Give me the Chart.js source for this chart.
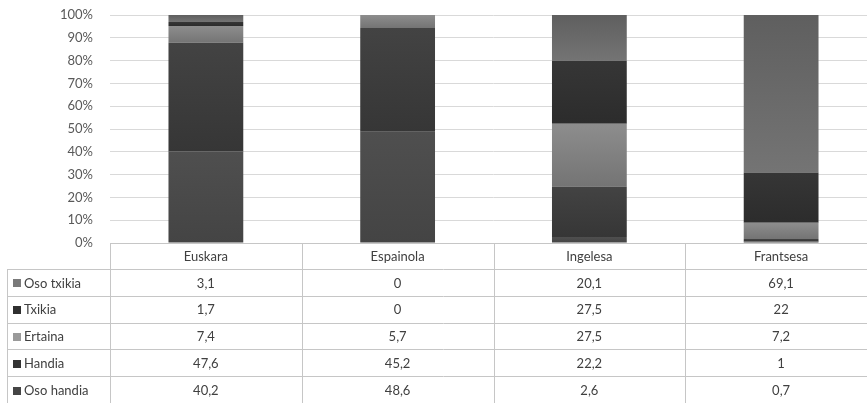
<!DOCTYPE html>
<html>
<head>
<meta charset="utf-8">
<script src="https://cdn.jsdelivr.net/npm/chart.js@4"></script>
<style>
  html, body { margin: 0; padding: 0; background: #fff; overflow: hidden; }
  #wrap { width: 880px; height: 403px; position: relative; }
</style>
</head>
<body>
<div id="wrap"><canvas id="c"></canvas></div>
<script>
// Hizkuntzak (categories) and answer groups
const categories = ['Euskara', 'Espainola', 'Ingelesa', 'Frantsesa'];
const osoTxikia = [3.1, 0, 20.1, 69.1];
const txikia    = [1.7, 0, 27.5, 22];
const ertaina   = [7.4, 5.7, 27.5, 7.2];
const handia    = [47.6, 45.2, 22.2, 1];
const osoHandia = [40.2, 48.6, 2.6, 0.7];
const yTicks = [0, 10, 20, 30, 40, 50, 60, 70, 80, 90, 100];

// series in stacking order (bottom first); each segment is shaded top -> bottom
const series = [
  { label: 'Oso handia', values: osoHandia, top: '#4f4f4f', bottom: '#444444', key: '#454545' },
  { label: 'Handia',     values: handia,    top: '#434343', bottom: '#363636', key: '#333333' },
  { label: 'Ertaina',    values: ertaina,   top: '#8d8d8d', bottom: '#747474', key: '#9a9a9a' },
  { label: 'Txikia',     values: txikia,    top: '#363636', bottom: '#2c2c2c', key: '#2f2f2f' },
  { label: 'Oso txikia', values: osoTxikia, top: '#5f5f5f', bottom: '#747474', key: '#7a7a7a' }
];

// 100% stacking: each category is scaled by its own total
const totals = categories.map((_, i) => series.reduce((s, d) => s + d.values[i], 0));
const shares = series.map(s => s.values.map((v, i) => v / totals[i] * 100));

const FONT = 'Lato, "Open Sans", sans-serif';
const TEXT = '#404040';
const LINE = '#c6c6c6';

const fmt = v => String(v).replace('.', ',');

// vertical shading for one stacked segment
function segmentFill(context) {
  const chart = context.chart;
  const s = series[context.datasetIndex];
  const y = chart.scales.y;
  if (!chart.chartArea || !y) return s.top;
  const i = context.dataIndex;
  let start = 0;
  for (let d = 0; d < context.datasetIndex; d++) start += shares[d][i];
  const end = start + shares[context.datasetIndex][i];
  const y0 = y.getPixelForValue(end);
  const y1 = y.getPixelForValue(start);
  if (!(y1 - y0 > 0.5)) return s.top;
  const g = chart.ctx.createLinearGradient(0, y0, 0, y1);
  g.addColorStop(0, s.top);
  g.addColorStop(1, s.bottom);
  return g;
}

// data table under the plot: header row with categories, one row per series
const tablePlugin = {
  id: 'dataTable',
  afterDraw(chart) {
    const ctx = chart.ctx;
    const x = chart.scales.x;
    const area = chart.chartArea;
    const colW = (area.right - area.left) / categories.length;
    const top = area.bottom;
    const headH = 26;
    const rowH = 26.8;
    const leftX = 7;
    const rows = series.slice().reverse();
    const bottom = top + headH + rowH * rows.length;

    ctx.save();
    ctx.strokeStyle = LINE;
    ctx.lineWidth = 1;
    ctx.beginPath();
    // header top edge
    ctx.moveTo(area.left, top + 0.5);
    ctx.lineTo(chart.width, top + 0.5);
    // row separators
    for (let r = 0; r <= rows.length; r++) {
      const yy = Math.round(top + headH + r * rowH) + 0.5;
      ctx.moveTo(leftX, yy);
      ctx.lineTo(chart.width, yy);
    }
    // left edge of the series-name column
    ctx.moveTo(leftX + 0.5, top + headH);
    ctx.lineTo(leftX + 0.5, bottom);
    // column dividers
    for (let i = 0; i <= categories.length; i++) {
      const cx = Math.round(area.left + i * colW) + 0.5;
      ctx.moveTo(cx, top);
      ctx.lineTo(cx, bottom);
    }
    ctx.stroke();

    ctx.font = '13px ' + FONT;
    ctx.fillStyle = TEXT;
    ctx.textBaseline = 'middle';
    ctx.textAlign = 'center';
    categories.forEach((c, i) => {
      ctx.fillText(c, x.getPixelForValue(i), top + headH / 2 + 1);
    });

    rows.forEach((s, r) => {
      const cy = top + headH + r * rowH + rowH / 2 + 1;
      ctx.fillStyle = s.key;
      ctx.fillRect(leftX + 6, Math.round(cy - 4), 8, 8);
      ctx.fillStyle = TEXT;
      ctx.textAlign = 'left';
      ctx.fillText(s.label, leftX + 17, cy);
      ctx.textAlign = 'center';
      s.values.forEach((v, i) => {
        ctx.fillText(fmt(v), x.getPixelForValue(i), cy);
      });
    });
    ctx.restore();
  }
};

new Chart(document.getElementById('c'), {
  type: 'bar',
  data: {
    labels: categories,
    datasets: series.map((s, k) => ({
      label: s.label,
      data: shares[k],
      backgroundColor: segmentFill,
      borderWidth: 0,
      categoryPercentage: 1,
      barPercentage: 0.39
    }))
  },
  options: {
    responsive: true,
    maintainAspectRatio: false,
    animation: false,
    devicePixelRatio: 1,
    layout: { padding: { top: 15, bottom: 160, left: 0, right: 3 } },
    plugins: { legend: { display: false }, tooltip: { enabled: false } },
    scales: {
      x: { stacked: true, display: false },
      y: {
        stacked: true,
        min: 0,
        max: 100,
        afterFit(scale) {
          scale.width = 110;
          scale.paddingTop = 8;
          scale.paddingBottom = 8;
        },
        afterBuildTicks(scale) { scale.ticks = yTicks.map(v => ({ value: v })); },
        border: { display: false },
        grid: { color: '#d9d9d9', drawTicks: false },
        ticks: {
          padding: 17,
          color: '#595959',
          font: { family: FONT, size: 13 },
          callback: v => v + '%'
        }
      }
    }
  },
  plugins: [tablePlugin]
});
</script>
</body>
</html>
